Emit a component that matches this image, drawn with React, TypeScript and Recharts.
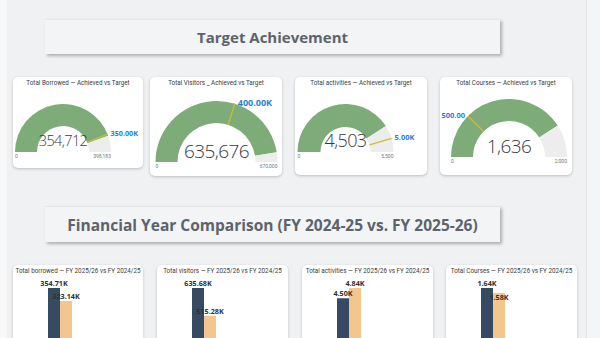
import React from 'react';
import { PieChart, Pie, Cell, BarChart, Bar, XAxis, YAxis, LabelList } from 'recharts';

// Target achievement gauges
const gaugeTitles = [
  'Total Borrowed — Achieved vs Target',
  'Total Visitors _ Achieved vs Target',
  'Total activities — Achieved vs Target',
  'Total Courses — Achieved vs Target',
];
const achieved = [354712, 635676, 4503, 1636];
const targets = [350000, 400000, 5000, 500];
const gaugeMax = [398183, 670000, 5500, 2000];
const targetLabels = ['350.00K', '400.00K', '5.00K', '500.00'];
const maxLabels = ['398,183', '670,000', '5,500', '2,000'];

// Financial year comparison
const fyTitles = [
  'Total borrowed — FY 2025/26 vs FY 2024/25',
  'Total visitors — FY 2025/26 vs FY 2024/25',
  'Total activities — FY 2025/26 vs FY 2024/25',
  'Total Courses — FY 2025/26 vs FY 2024/25',
];
const fy2526 = [354712, 635676, 4503, 1636];
const fy2425 = [323140, 515280, 4840, 1580];

const GREEN = '#7dac78';
const TRACK = '#ededed';
const MARKER = '#cdbb35';
const BLUE = '#1f7fd5';
const NAVY = '#364b61';
const TAN = '#f2c68d';
const FONT = '"Open Sans", "Noto Sans", sans-serif';
const SMALL_FONT = 'Roboto, "Noto Sans", sans-serif';

const gaugeBoxes = [
  { left: 13, top: 77, width: 130, height: 91, cx: 50, cy: 75, outer: 48, inner: 26, valueSize: 14.5, targetSize: 7.2 },
  { left: 150, top: 77, width: 132, height: 99, cx: 66.5, cy: 85, outer: 61, inner: 39, valueSize: 19, targetSize: 9 },
  { left: 295, top: 77, width: 132, height: 98, cx: 50.5, cy: 75, outer: 48, inner: 25, valueSize: 18, targetSize: 7.5 },
  { left: 440, top: 77, width: 132, height: 98, cx: 69, cy: 80, outer: 58, inner: 36, valueSize: 19, targetSize: 7.5 },
];

// prevInside: the FY 2024/25 label sits just inside the bar top when it would collide
const fyBoxes = [
  { left: 13, width: 130, prevInside: false },
  { left: 157, width: 131, prevInside: false },
  { left: 302, width: 131, prevInside: false },
  { left: 446, width: 131, prevInside: true },
];

const card: React.CSSProperties = {
  position: 'absolute',
  background: '#fff',
  borderRadius: 5,
  boxShadow: '0 1px 3px rgba(0,0,0,0.22)',
};

const cardTitle: React.CSSProperties = {
  position: 'absolute',
  left: 0,
  right: 0,
  textAlign: 'center',
  fontSize: 6.3,
  color: '#3a3a3a',
  whiteSpace: 'nowrap',
  fontFamily: SMALL_FONT,
};

const fmtK = (v: number) => `${(v / 1000).toFixed(2)}K`;

function targetMarker(i: number) {
  return (p: any) => {
    if (p.index !== 0) return null;
    const a = (-p.endAngle * Math.PI) / 180;
    const c = Math.cos(a);
    const s = Math.sin(a);
    const px = p.cx + p.outerRadius * c;
    const py = p.cy + p.outerRadius * s;
    return (
      <g>
        <line
          x1={p.cx + p.innerRadius * c}
          y1={p.cy + p.innerRadius * s}
          x2={px}
          y2={py}
          stroke={MARKER}
          strokeWidth={1.3}
        />
        <text
          x={px + (c >= 0 ? 3 : -3)}
          y={py + 2}
          textAnchor={c >= 0 ? 'start' : 'end'}
          fill={BLUE}
          fontSize={gaugeBoxes[i].targetSize}
          fontWeight={700}
          fontFamily={FONT}
        >
          {targetLabels[i]}
        </text>
      </g>
    );
  };
}

function Gauge({ i }: { i: number }) {
  const b = gaugeBoxes[i];
  const fill = [
    { name: 'achieved', v: achieved[i] },
    { name: 'remaining', v: gaugeMax[i] - achieved[i] },
  ];
  const goal = [
    { name: 'target', v: targets[i] },
    { name: 'rest', v: gaugeMax[i] - targets[i] },
  ];
  const small: React.CSSProperties = {
    position: 'absolute',
    top: b.cy + 1,
    fontSize: 5,
    color: '#777',
    fontFamily: SMALL_FONT,
    whiteSpace: 'nowrap',
  };
  return (
    <div style={{ ...card, left: b.left, top: b.top, width: b.width, height: b.height }}>
      <div style={{ ...cardTitle, top: 2 }}>{gaugeTitles[i]}</div>
      <PieChart
        width={b.width}
        height={b.height}
        margin={{ top: 0, right: 0, bottom: 0, left: 0 }}
        style={{ position: 'absolute', left: 0, top: 0, overflow: 'visible' }}
      >
        <Pie
          data={fill}
          dataKey="v"
          cx={b.cx}
          cy={b.cy}
          startAngle={180}
          endAngle={0}
          innerRadius={b.inner}
          outerRadius={b.outer}
          stroke="none"
          isAnimationActive={false}
        >
          <Cell fill={GREEN} />
          <Cell fill={TRACK} />
        </Pie>
        <Pie
          data={goal}
          dataKey="v"
          cx={b.cx}
          cy={b.cy}
          startAngle={180}
          endAngle={0}
          innerRadius={b.inner}
          outerRadius={b.outer}
          stroke="none"
          labelLine={false}
          label={targetMarker(i)}
          isAnimationActive={false}
        >
          <Cell fill="transparent" />
          <Cell fill="transparent" />
        </Pie>
      </PieChart>
      <div
        style={{
          position: 'absolute',
          left: b.cx - 50,
          width: 100,
          top: b.cy - 11 - b.valueSize * 0.7,
          textAlign: 'center',
          fontSize: b.valueSize,
          lineHeight: `${b.valueSize * 1.4}px`,
          fontWeight: 300,
          color: '#343a40',
          fontFamily: FONT,
          letterSpacing: -0.6,
        }}
      >
        {achieved[i].toLocaleString('en-US')}
      </div>
      <div style={{ ...small, left: b.cx - b.outer }}>0</div>
      <div style={{ ...small, left: b.cx + b.outer - 40, width: 40, textAlign: 'right' }}>{maxLabels[i]}</div>
    </div>
  );
}

function FyCard({ i }: { i: number }) {
  const b = fyBoxes[i];
  const data = [{ name: fyTitles[i], cur: fy2526[i], prev: fy2425[i] }];
  const label = {
    fill: '#2f2f2f',
    fontSize: 7.2,
    fontWeight: 700,
    fontFamily: FONT,
    formatter: (v: any) => fmtK(Number(v)),
  };
  return (
    <div style={{ ...card, left: b.left, top: 265, width: b.width, height: 190 }}>
      <div style={{ ...cardTitle, top: 2 }}>{fyTitles[i]}</div>
      <BarChart
        width={130}
        height={170}
        data={data}
        margin={{ top: 23, right: 46, bottom: 0, left: 10 }}
        barGap={0}
        barSize={12}
        style={{ position: 'absolute', left: 0, top: 0 }}
      >
        <XAxis dataKey="name" hide />
        <YAxis hide domain={[0, 'dataMax']} />
        <Bar dataKey="cur" fill={NAVY} isAnimationActive={false}>
          <LabelList dataKey="cur" position="top" offset={2} {...label} />
        </Bar>
        <Bar dataKey="prev" fill={TAN} isAnimationActive={false}>
          <LabelList dataKey="prev" position={b.prevInside ? 'insideTop' : 'top'} offset={2} {...label} />
        </Bar>
      </BarChart>
    </div>
  );
}

function SectionTitle({ top, height, size, text }: { top: number; height: number; size: number; text: string }) {
  return (
    <div
      style={{
        position: 'absolute',
        left: 45,
        top,
        width: 455,
        height,
        background: '#f3f4f6',
        borderTop: '1px solid #e6e7e9',
        boxShadow: '2px 2px 3px rgba(0,0,0,0.28)',
        display: 'flex',
        alignItems: 'center',
        justifyContent: 'center',
        fontFamily: FONT,
        fontWeight: 700,
        fontSize: size,
        color: '#5c636b',
      }}
    >
      {text}
    </div>
  );
}

export default function App() {
  return (
    <div style={{ position: 'relative', width: 600, height: 338, overflow: 'hidden', background: '#f8f8f8' }}>
      <style>{'body{margin:0}'}</style>
      <div style={{ position: 'absolute', left: 7, top: 0, width: 579, height: 338, background: '#eff1f3' }} />
      <div style={{ position: 'absolute', left: 586, top: 0, width: 14, height: 338, background: '#f4f5f6', borderLeft: '1px solid #e2e4e6' }} />
      <SectionTitle top={19} height={34} size={15} text="Target Achievement" />
      {gaugeBoxes.map((_, i) => (
        <Gauge key={i} i={i} />
      ))}
      <SectionTitle top={206} height={35} size={15.5} text="Financial Year Comparison (FY 2024-25 vs. FY 2025-26)" />
      {fyBoxes.map((_, i) => (
        <FyCard key={i} i={i} />
      ))}
    </div>
  );
}
